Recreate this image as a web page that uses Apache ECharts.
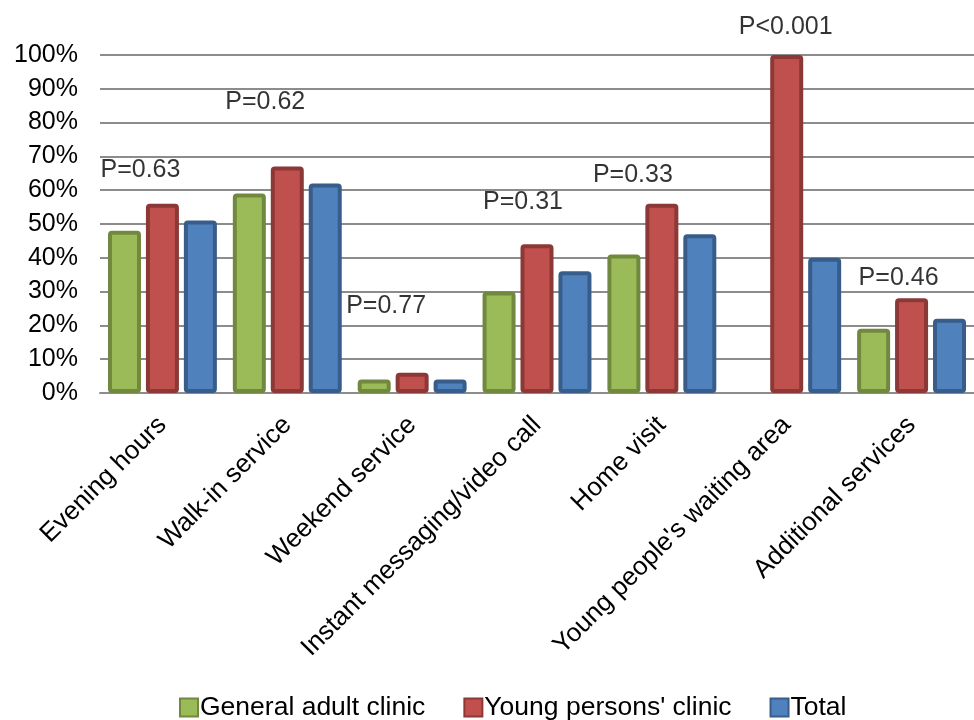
<!DOCTYPE html>
<html>
<head>
<meta charset="utf-8">
<script src="https://cdn.jsdelivr.net/npm/echarts@6/dist/echarts.min.js"></script>
<style>
  html, body { margin: 0; padding: 0; background: #fff; }
  #chart { width: 974px; height: 720px; }
</style>
</head>
<body>
<div id="chart"></div>
<script>
// Clinic service preferences by clinic type (percent of respondents)
const categories = ['Evening hours', 'Walk-in service', 'Weekend service',
  'Instant messaging/video call', 'Home visit', "Young people's waiting area", 'Additional services'];
const generalAdult = [48, 59, 4, 30, 41, 0, 19];
const youngPersons = [56, 67, 6, 44, 56, 100, 28];
const total = [51, 62, 4, 36, 47, 40, 22];

// P-values shown above each group, with the height (%) at which each sits
const pLabels = ['P=0.63', 'P=0.62', 'P=0.77', 'P=0.31', 'P=0.33', 'P<0.001', 'P=0.46'];
const pHeights = [66, 86, 25.7, 56.5, 64.5, 108.3, 34];
const pShift = [-22, -22, -26, -14, -29, -1, -13];

const FONT = 'Liberation Sans, Arial, sans-serif';

function barSeries(name, data, fill, edge) {
  return {
    name: name,
    type: 'bar',
    // a zero value draws no visible bar
    data: data.map(v => v === 0 ? { value: v, itemStyle: { borderWidth: 0 } } : v),
    barWidth: 33,
    barGap: '15%',
    itemStyle: { color: fill, borderColor: edge, borderWidth: 4, borderRadius: 2 }
  };
}

const chart = echarts.init(document.getElementById('chart'));
chart.setOption({
  animation: false,
  textStyle: { fontFamily: FONT },
  grid: { left: 100, top: 55, width: 886, height: 338, containLabel: false },
  legend: {
    top: 689,
    left: 174,
    itemWidth: 18,
    itemHeight: 18,
    itemGap: 38,
    icon: 'rect',
    itemStyle: { borderWidth: 2 },
    textStyle: { fontSize: 26.5, color: '#000', fontFamily: FONT, padding: [0, 0, 0, -3] },
    data: ['General adult clinic', "Young persons' clinic", 'Total']
  },
  xAxis: {
    type: 'category',
    data: categories,
    axisTick: { show: false },
    axisLine: { show: true, lineStyle: { color: '#8c8c8c', width: 2 } },
    axisLabel: { rotate: 45, fontSize: 26, color: '#000', margin: 28, interval: 0, fontFamily: FONT }
  },
  yAxis: {
    type: 'value',
    min: 0,
    max: 100,
    interval: 10,
    axisLine: { show: false },
    axisTick: { show: false },
    axisLabel: { formatter: '{value}%', fontSize: 25, color: '#000', margin: 22, fontFamily: FONT },
    splitLine: { lineStyle: { color: '#8c8c8c', width: 2 } }
  },
  series: [
    barSeries('General adult clinic', generalAdult, '#9BBB59', '#71893F'),
    barSeries("Young persons' clinic", youngPersons, '#C0504D', '#8C3836'),
    barSeries('Total', total, '#4F81BD', '#385D8A'),
    {
      name: 'p-values',
      type: 'scatter',
      symbolSize: 0,
      silent: true,
      clip: false,
      z: 10,
      data: pHeights.map((h, i) => ({
        value: [i, h],
        label: {
          show: true,
          formatter: pLabels[i],
          position: 'inside',
          offset: [pShift[i], 0],
          fontSize: 25,
          color: '#000',
          fontFamily: FONT
        }
      }))
    }
  ]
});
</script>
</body>
</html>
